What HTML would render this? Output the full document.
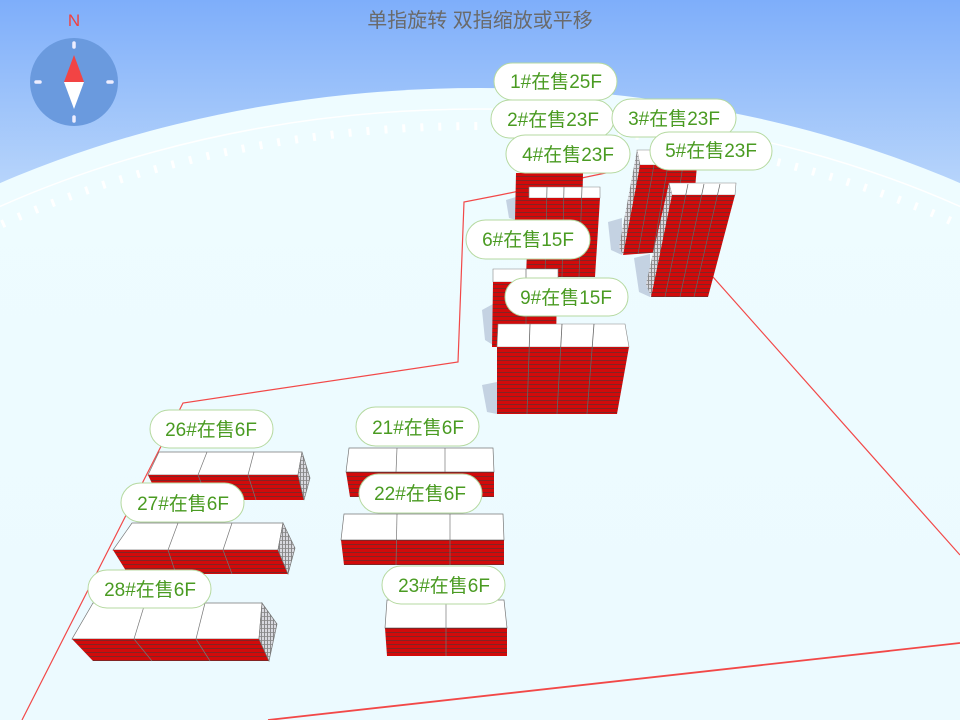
<!DOCTYPE html>
<html><head><meta charset="utf-8"><style>
html,body{margin:0;padding:0;width:960px;height:720px;overflow:hidden;background:#eaf9ff}
svg{display:block;position:absolute;left:0;top:0}
</style></head><body>
<svg width="960" height="720" viewBox="0 0 960 720" xmlns="http://www.w3.org/2000/svg" font-family="Liberation Sans, Noto Sans CJK SC, sans-serif">
<defs>
<linearGradient id="sky" x1="0" y1="0" x2="0" y2="220" gradientUnits="userSpaceOnUse">
<stop offset="0" stop-color="#7eaefa"/><stop offset="1" stop-color="#c2dcfb"/>
</linearGradient>
<linearGradient id="gr" x1="0" y1="0" x2="0" y2="1">
<stop offset="0" stop-color="#eefcff"/><stop offset="1" stop-color="#eaf8ff"/>
</linearGradient>
<pattern id="fac" width="8" height="4" patternUnits="userSpaceOnUse">
<rect width="8" height="4" fill="#d20a0a"/><rect width="8" height="0.9" fill="#7a2626"/>
</pattern>
<pattern id="side" width="3" height="4" patternUnits="userSpaceOnUse">
<rect width="3" height="4" fill="#d8d8de"/><rect width="0.8" height="4" fill="#777"/><rect width="3" height="0.8" fill="#888"/>
</pattern>
</defs>
<rect width="960" height="720" fill="url(#sky)"/>
<ellipse cx="480" cy="705" rx="900" ry="617" fill="url(#gr)"/>
<ellipse cx="480" cy="714" rx="882" ry="605" fill="none" stroke="#fff" stroke-width="1.5"/>
<ellipse cx="480" cy="726" rx="872" ry="600" fill="none" stroke="#fff" stroke-width="8" stroke-dasharray="3 15"/>

<!-- boundary -->
<polyline points="22,720 183,403 458,362 464,202 500,195 620,170" fill="none" stroke="#f24848" stroke-width="1.2"/>
<line x1="713" y1="277" x2="960" y2="555" stroke="#f24848" stroke-width="1.2"/>
<line x1="268" y1="720" x2="960" y2="643" stroke="#f24848" stroke-width="1.8"/>

<!-- shadows -->
<g fill="#c4d2e2">
<polygon points="482,385 497,382 497,414 487,412"/>
<polygon points="482,310 493,304 493,345 485,340"/>
<polygon points="608,222 622,218 622,255 611,250"/>
<polygon points="634,258 650,254 650,297 639,292"/>
<polygon points="506,200 516,197 516,220 509,218"/>
</g>

<!-- 1/2 building -->
<polygon points="516,173 583,173 582,220 515,220" fill="url(#fac)"/>
<!-- 3# -->
<polygon points="637,150 697,150 697,165 640,165" fill="#fff" stroke="#888" stroke-width="0.6"/>
<polygon points="640,165 697,165 690,250 623,255" fill="url(#fac)"/>
<polygon points="637,150 640,165 623,255 619,247" fill="url(#side)"/>
<g stroke="#666" stroke-width="0.7"><line x1="654" y1="165" x2="638" y2="254"/><line x1="668" y1="165" x2="653" y2="253"/><line x1="683" y1="165" x2="670" y2="251"/></g>
<!-- 4# -->
<polygon points="529,187 600,187 600,198 529,198" fill="#fff" stroke="#888" stroke-width="0.6"/>
<polygon points="529,198 600,198 595,277 526,277" fill="url(#fac)"/>
<g stroke="#666" stroke-width="0.7"><line x1="547" y1="187" x2="545" y2="277"/><line x1="564" y1="187" x2="562" y2="277"/><line x1="582" y1="187" x2="579" y2="277"/></g>
<!-- 5# -->
<polygon points="669,183 736,183 735,195 672,195" fill="#fff" stroke="#888" stroke-width="0.6"/>
<polygon points="672,195 735,195 708,297 651,297" fill="url(#fac)"/>
<polygon points="669,183 672,195 651,297 646,284" fill="url(#side)"/>
<g stroke="#666" stroke-width="0.7"><line x1="688" y1="184" x2="665" y2="297"/><line x1="704" y1="184" x2="680" y2="297"/><line x1="720" y1="184" x2="694" y2="297"/></g>
<!-- 6# -->
<polygon points="493,269 558,269 558,282 493,282" fill="#fff" stroke="#888" stroke-width="0.6"/>
<polygon points="493,282 557,282 556,347 492,347" fill="url(#fac)"/>
<line x1="526" y1="269" x2="526" y2="347" stroke="#666" stroke-width="0.7"/>
<!-- 9# -->
<polygon points="498,324 625,324 629,347 497,347" fill="#fff" stroke="#888" stroke-width="0.6"/>
<polygon points="497,347 629,347 617,414 497,414" fill="url(#fac)"/>
<g stroke="#666" stroke-width="0.8"><line x1="530" y1="324" x2="527" y2="414"/><line x1="562" y1="324" x2="557" y2="414"/><line x1="594" y1="324" x2="587" y2="414"/></g>

<!-- low buildings -->
<g stroke="#777" stroke-width="0.7">
<polygon points="159,452 302,452 298,475 148,475" fill="#fff"/>
<polygon points="148,475 298,475 304,500 160,500" fill="url(#fac)" stroke="none"/>
<polygon points="302,452 310,478 304,500 298,475" fill="url(#side)"/>
<line x1="207" y1="452" x2="198" y2="475"/><line x1="254" y1="452" x2="248" y2="475"/>
<line x1="198" y1="475" x2="208" y2="500"/><line x1="248" y1="475" x2="256" y2="500"/>
<polygon points="132,523 283,523 278,550 113,550" fill="#fff"/>
<polygon points="113,550 278,550 288,574 128,574" fill="url(#fac)" stroke="none"/>
<polygon points="283,523 295,548 288,574 278,550" fill="url(#side)"/>
<line x1="178" y1="523" x2="168" y2="550"/><line x1="232" y1="523" x2="223" y2="550"/>
<line x1="168" y1="550" x2="176" y2="574"/><line x1="223" y1="550" x2="232" y2="574"/>
<polygon points="93,603 262,603 259,639 72,639" fill="#fff"/>
<polygon points="72,639 259,639 269,661 93,661" fill="url(#fac)" stroke="none"/>
<polygon points="262,603 277,624 269,661 259,639" fill="url(#side)"/>
<line x1="145" y1="603" x2="134" y2="639"/><line x1="205" y1="603" x2="196" y2="639"/>
<line x1="134" y1="639" x2="152" y2="661"/><line x1="196" y1="639" x2="210" y2="661"/>
<polygon points="349,448 493,448 494,472 346,472" fill="#fff"/>
<polygon points="346,472 494,472 494,497 350,497" fill="url(#fac)" stroke="none"/>
<line x1="397" y1="448" x2="396" y2="472"/><line x1="445" y1="448" x2="445" y2="472"/>
<polygon points="344,514 503,514 504,540 341,540" fill="#fff"/>
<polygon points="341,540 504,540 504,565 344,565" fill="url(#fac)" stroke="none"/>
<line x1="397" y1="514" x2="396" y2="565"/><line x1="450" y1="514" x2="450" y2="565"/>
<polygon points="387,600 504,600 507,628 385,628" fill="#fff"/>
<polygon points="385,628 507,628 507,656 387,656" fill="url(#fac)" stroke="none"/>
<line x1="446" y1="600" x2="446" y2="656"/>
</g>

<!-- labels -->
<g font-size="19" fill="#4a9b22" text-anchor="middle">
<g fill="#fff" stroke="#b5d9a0" stroke-width="1">
<rect x="494" y="63" width="123" height="37" rx="18.5"/>
<rect x="491" y="100" width="123" height="38" rx="19"/>
<rect x="612" y="99" width="124" height="38" rx="19"/>
<rect x="506" y="135" width="124" height="38" rx="19"/>
<rect x="650" y="132" width="122" height="38" rx="19"/>
<rect x="466" y="220" width="124" height="39" rx="19.5"/>
<rect x="505" y="278" width="123" height="38" rx="19"/>
<rect x="150" y="410" width="123" height="38" rx="19"/>
<rect x="356" y="407" width="123" height="39" rx="19.5"/>
<rect x="359" y="474" width="123" height="39" rx="19.5"/>
<rect x="121" y="483" width="123" height="39" rx="19.5"/>
<rect x="88" y="570" width="123" height="38" rx="19"/>
<rect x="382" y="566" width="123" height="38" rx="19"/>
</g>
<text x="556" y="88">1#在售25F</text>
<text x="553" y="126">2#在售23F</text>
<text x="674" y="125">3#在售23F</text>
<text x="568" y="161">4#在售23F</text>
<text x="711" y="157">5#在售23F</text>
<text x="528" y="246">6#在售15F</text>
<text x="566" y="304">9#在售15F</text>
<text x="211" y="436">26#在售6F</text>
<text x="418" y="434">21#在售6F</text>
<text x="420" y="500">22#在售6F</text>
<text x="183" y="510">27#在售6F</text>
<text x="150" y="596">28#在售6F</text>
<text x="444" y="592">23#在售6F</text>
</g>

<text x="480" y="27" font-size="20" fill="#6a6a6a" text-anchor="middle">单指旋转 双指缩放或平移</text>

<text x="74" y="26" font-size="17" fill="#f04040" text-anchor="middle">N</text>
<circle cx="74" cy="82" r="44" fill="#6a9ade"/>
<g stroke="#eef" stroke-width="3.5" stroke-linecap="round">
<line x1="74" y1="43" x2="74" y2="47"/><line x1="74" y1="117" x2="74" y2="121"/>
<line x1="36" y1="82" x2="40" y2="82"/><line x1="108" y1="82" x2="112" y2="82"/>
</g>
<polygon points="74,55 64,82 84,82" fill="#f24444"/>
<polygon points="64,82 84,82 74,109" fill="#fff"/>
</svg>
</body></html>
